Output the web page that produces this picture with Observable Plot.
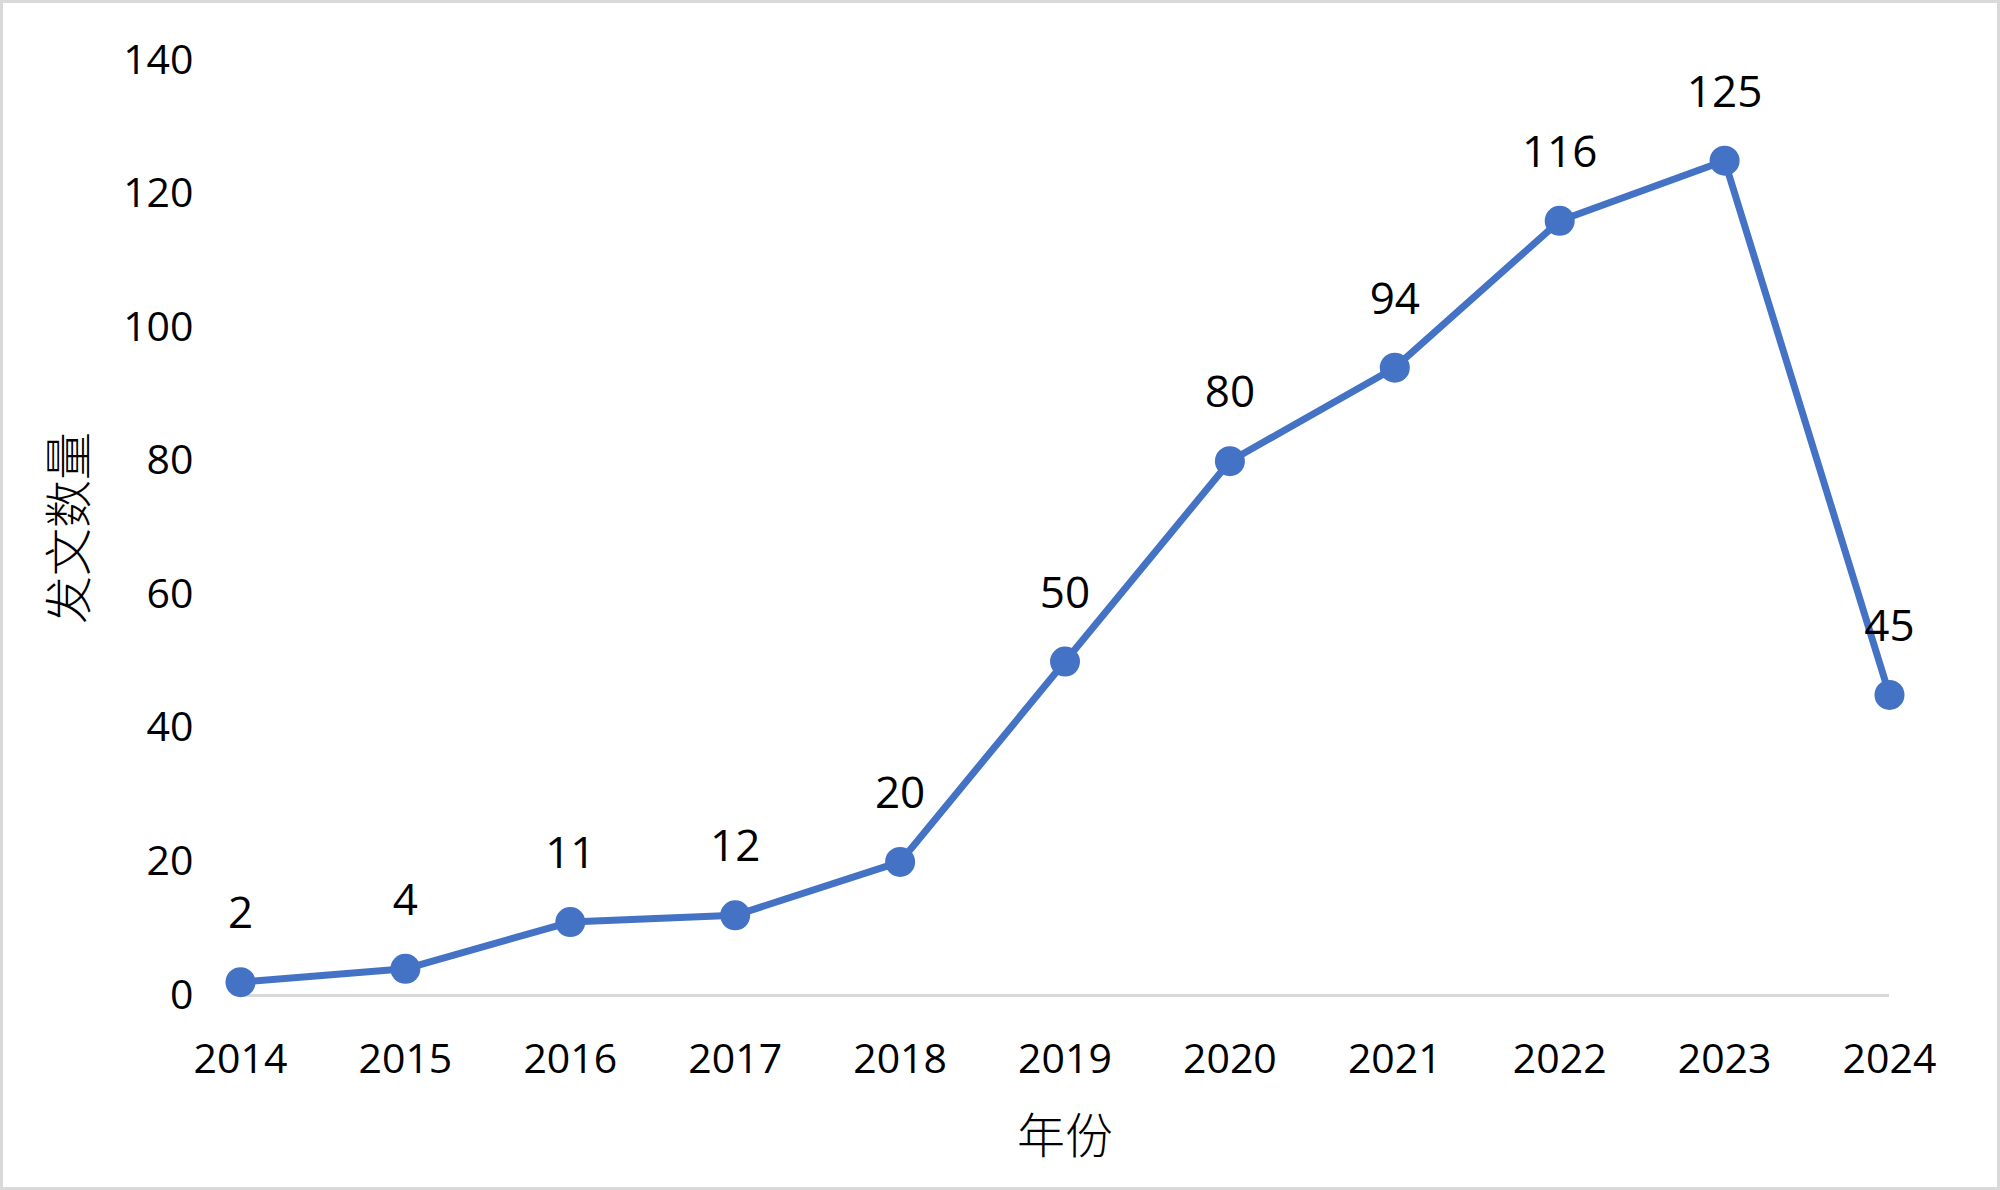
<!DOCTYPE html>
<html>
<head>
<meta charset="utf-8">
<script src="https://cdn.jsdelivr.net/npm/d3@7"></script>
<script src="https://cdn.jsdelivr.net/npm/@observablehq/plot@0.6"></script>
<style>
  html, body { margin: 0; padding: 0; background: #fff; }
  #chart { width: 2000px; height: 1190px; position: relative; overflow: hidden; }
  #chart svg { position: absolute; left: 0; top: 0; }
  #frame { position: absolute; left: 0; top: 0; width: 2000px; height: 1190px; box-sizing: border-box; border: 3px solid #d9d9d9; pointer-events: none; }
</style>
</head>
<body>
<div id="chart"><div id="frame"></div></div>
<script>
const years = [2014, 2015, 2016, 2017, 2018, 2019, 2020, 2021, 2022, 2023, 2024];
const counts = [2, 4, 11, 12, 20, 50, 80, 94, 116, 125, 45];
const yTicks = [0, 20, 40, 60, 80, 100, 120, 140];
const xLabel = "年份";
const yLabel = "发文数量";

const data = years.map((y, i) => ({year: y, count: counts[i]}));
const blue = "#4472C4";
const font = "'Open Sans', 'Noto Sans', sans-serif";

const plot = Plot.plot({
  width: 2000,
  height: 1190,
  marginLeft: 240,
  marginRight: 111,
  marginTop: 60,
  marginBottom: 195,
  style: {fontFamily: font, fontSize: "41px", color: "#000", background: "transparent"},
  x: {type: "linear", domain: [2014, 2024], ticks: years, tickFormat: d => String(d), tickSize: 0, tickPadding: 48, label: null},
  y: {domain: [0, 140], ticks: yTicks, tickSize: 0, tickPadding: 47, label: null},
  marks: [
    Plot.ruleY([0], {stroke: "#d9d9d9", strokeWidth: 3}),
    Plot.line(data, {x: "year", y: "count", stroke: blue, strokeWidth: 7}),
    Plot.dot(data, {x: "year", y: "count", r: 15, fill: blue, stroke: "none"}),
    Plot.text(data, {x: "year", y: "count", text: d => String(d.count), dy: -68, fontSize: 44, fill: "#000"}),
    Plot.text([xLabel], {frameAnchor: "bottom", textAnchor: "middle", lineAnchor: "middle", dy: 142, fontSize: 48, fontFamily: "'Noto Sans CJK SC'", fontWeight: 300, fill: "#000"}),
    Plot.text([yLabel], {frameAnchor: "left", textAnchor: "middle", lineAnchor: "middle", dx: -170, rotate: -90, fontSize: 48, fontFamily: "'Noto Sans CJK SC'", fontWeight: 300, fill: "#000"})
  ]
});
document.getElementById("chart").prepend(plot);
</script>
</body>
</html>
